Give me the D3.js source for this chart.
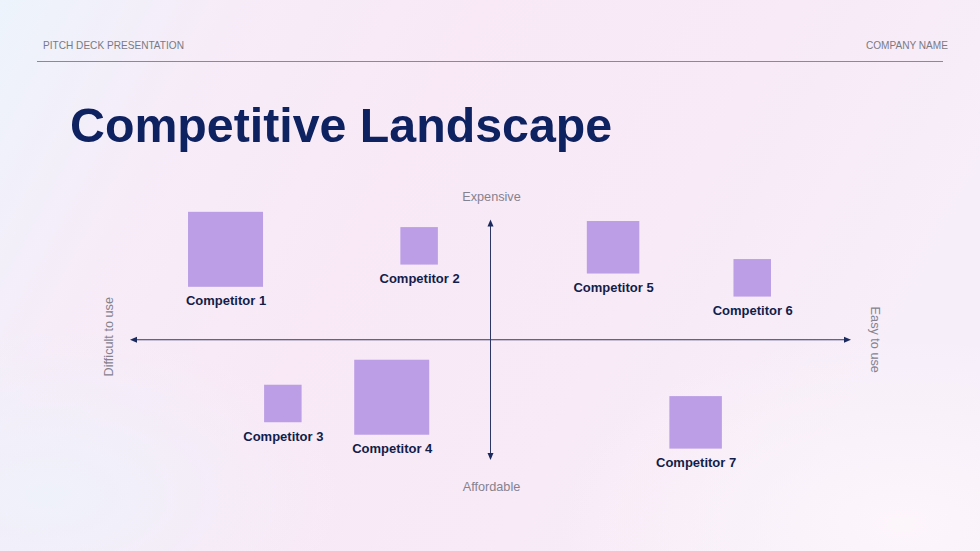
<!DOCTYPE html>
<html><head><meta charset="utf-8">
<script src="https://cdn.jsdelivr.net/npm/d3@7"></script>
<style>html,body{margin:0;padding:0;overflow:hidden;background:#f8ebf6;}svg{display:block;}</style>
</head><body>
<svg id="chart" width="980" height="551"></svg>
<script>
// Data
const competitors = ["Competitor 1","Competitor 2","Competitor 3","Competitor 4","Competitor 5","Competitor 6","Competitor 7"];
const easeOfUse   = [-7.35, -1.98, -5.76, -2.74, 3.40, 7.26, 5.69];   // -10 difficult .. 10 easy
const price       = [7.52, 7.81, -5.30, -4.78, 7.69, 5.15, -6.87];    // -10 affordable .. 10 expensive
const share       = [20, 10, 10, 20, 14, 10, 14];
const axisLabels  = {top:"Expensive", bottom:"Affordable", left:"Difficult to use", right:"Easy to use"};
const headerLeft = "PITCH DECK PRESENTATION", headerRight = "COMPANY NAME";
const title = "Competitive Landscape";

const svg = d3.select("#chart");
const defs = svg.append("defs");
const lg = defs.append("linearGradient").attr("id","bg").attr("x1","0").attr("y1","0").attr("x2","1").attr("y2","0.3");
[["0%","#edf4fc"],["22%","#f6ecf8"],["45%","#f9e9f6"],["75%","#f8eaf7"],["100%","#f6eef9"]].forEach(s=>lg.append("stop").attr("offset",s[0]).attr("stop-color",s[1]));
const rg = defs.append("radialGradient").attr("id","glow").attr("cx","0.92").attr("cy","0.95").attr("r","0.35");
rg.append("stop").attr("offset","0%").attr("stop-color","#fdf6fb").attr("stop-opacity",0.9);
rg.append("stop").attr("offset","100%").attr("stop-color","#fdf6fb").attr("stop-opacity",0);
const rg2 = defs.append("radialGradient").attr("id","glow2").attr("cx","0.05").attr("cy","0.9").attr("r","0.3");
rg2.append("stop").attr("offset","0%").attr("stop-color","#eef2fb").attr("stop-opacity",0.9);
rg2.append("stop").attr("offset","100%").attr("stop-color","#eef2fb").attr("stop-opacity",0);
svg.append("rect").attr("width",980).attr("height",551).attr("fill","url(#bg)");
svg.append("rect").attr("width",980).attr("height",551).attr("fill","url(#glow)");
svg.append("rect").attr("width",980).attr("height",551).attr("fill","url(#glow2)");

// Header
svg.append("text").attr("x",43).attr("y",49).text(headerLeft)
  .attr("font-family","Liberation Sans, Arial, sans-serif").attr("font-size",10.1).attr("fill","#7a7a82");
svg.append("text").attr("x",948).attr("y",49).attr("text-anchor","end").text(headerRight)
  .attr("font-family","Liberation Sans, Arial, sans-serif").attr("font-size",10.1).attr("fill","#7a7a82");
svg.append("line").attr("x1",37).attr("x2",943).attr("y1",61.5).attr("y2",61.5).attr("stroke","#878a9c").attr("stroke-width",1);

// Title
svg.append("text").attr("x",70).attr("y",142).text(title)
  .attr("font-family","Liberation Sans, Arial, sans-serif").attr("font-weight","bold")
  .attr("font-size",48.3).attr("fill","#0e2160");

// Scales
const x = d3.scaleLinear().domain([-10,10]).range([130,851]);
const y = d3.scaleLinear().domain([-10,10]).range([460,219.5]);
const s = d3.scaleLinear().domain([0,20]).range([0,75]);

const axisColor = "#2c3766", arrowColor = "#1b2a5e";
const g = svg.append("g");
g.append("line").attr("x1",x(-10)+4).attr("x2",x(10)-4).attr("y1",y(0)).attr("y2",y(0)).attr("stroke",axisColor).attr("stroke-width",1);
g.append("line").attr("x1",x(0)).attr("x2",x(0)).attr("y1",y(10)+4).attr("y2",y(-10)-4).attr("stroke",axisColor).attr("stroke-width",1);
const tri = (pts)=>g.append("path").attr("d","M"+pts.map(p=>p.join(",")).join("L")+"Z").attr("fill",arrowColor);
tri([[x(-10),y(0)],[x(-10)+7,y(0)-3],[x(-10)+7,y(0)+3]]);
tri([[x(10),y(0)],[x(10)-7,y(0)-3],[x(10)-7,y(0)+3]]);
tri([[x(0),y(10)],[x(0)-3,y(10)+7],[x(0)+3,y(10)+7]]);
tri([[x(0),y(-10)],[x(0)-3,y(-10)-7],[x(0)+3,y(-10)-7]]);

const lblFont = "Liberation Sans, Arial, sans-serif";
g.append("text").attr("x",x(0)+1).attr("y",201).attr("text-anchor","middle").text(axisLabels.top)
  .attr("font-family",lblFont).attr("font-size",12.7).attr("fill","#85828f");
g.append("text").attr("x",x(0)+1).attr("y",491).attr("text-anchor","middle").text(axisLabels.bottom)
  .attr("font-family",lblFont).attr("font-size",12.7).attr("fill","#85828f");
g.append("text").attr("transform",`translate(113,${y(0)-3}) rotate(-90)`).attr("text-anchor","middle").text(axisLabels.left)
  .attr("font-family",lblFont).attr("font-size",12.7).attr("fill","#85828f");
g.append("text").attr("transform",`translate(871,${y(0)}) rotate(90)`).attr("text-anchor","middle").text(axisLabels.right)
  .attr("font-family",lblFont).attr("font-size",12.7).attr("fill","#85828f");

const data = competitors.map((n,i)=>({name:n, ex:easeOfUse[i], py:price[i], sh:share[i]}));
const nodes = g.selectAll("g.comp").data(data).join("g").attr("class","comp");
nodes.append("rect")
  .attr("x",d=>x(d.ex)-s(d.sh)/2).attr("y",d=>y(d.py)-s(d.sh)/2)
  .attr("width",d=>s(d.sh)).attr("height",d=>s(d.sh)).attr("fill","#bb9ee6");
nodes.append("text")
  .attr("x",d=>x(d.ex)+0.5).attr("y",d=>y(d.py)+s(d.sh)/2+18.5)
  .attr("text-anchor","middle").text(d=>d.name)
  .attr("font-family",lblFont).attr("font-weight","bold").attr("font-size",13).attr("fill","#111d4a");
</script>
</body></html>
